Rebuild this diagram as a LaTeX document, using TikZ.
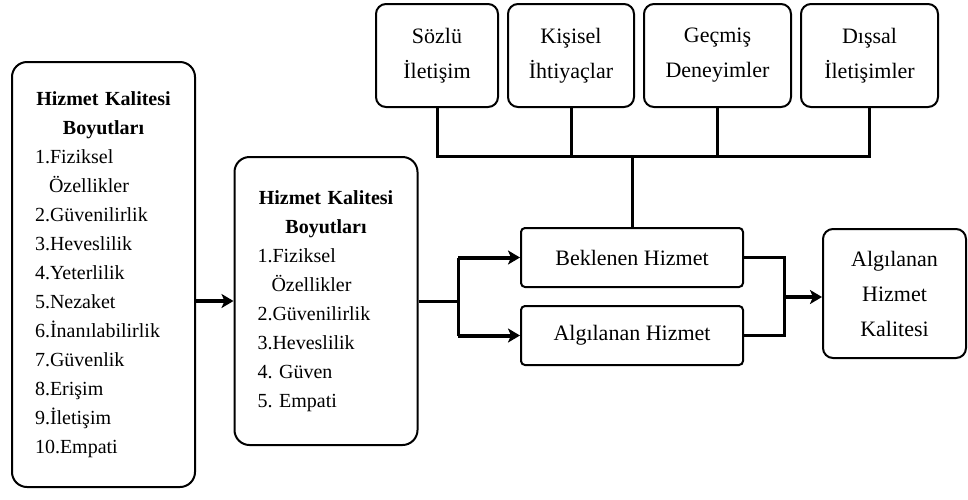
\documentclass[tikz,border=0pt]{standalone}
\usepackage{fontspec}
\setmainfont{Liberation Serif}
\usetikzlibrary{arrows.meta,positioning}

\begin{document}
\begin{tikzpicture}[x=0.5pt,y=-0.5pt,
  kutu/.style={draw,line width=1pt,rounded corners=7.5pt,text width=68.5pt,inner xsep=11.5pt,inner ysep=0pt,font=\fontsize{10}{14.5}\selectfont},
  ust/.style={draw,line width=1pt,rounded corners=5pt,align=center,minimum height=51.5pt,inner sep=0pt,font=\fontsize{11}{17.5}\selectfont},
  hizmet/.style={draw,line width=1pt,rounded corners=2pt,minimum width=111pt,minimum height=29.5pt,inner sep=0pt,font=\fontsize{11}{13}\selectfont},
  cizgi/.style={line width=1.5pt},
  ok/.style={line width=2pt,-{Stealth[length=6pt,width=7pt,inset=1.5pt]}}]
  \useasboundingbox (0,0) rectangle (968,499);

  % 箱
  \node[kutu,minimum height=212.5pt] (L) at (103.5,274.5) {\centering\textbf{Hizmet Kalitesi}\\\textbf{Boyutları}\par
    \raggedright 1.Fiziksel\\\hspace*{7pt}Özellikler\\2.Güvenilirlik\\3.Heveslilik\\4.Yeterlilik\\5.Nezaket\\6.İnanılabilirlik\\7.Güvenlik\\8.Erişim\\9.İletişim\\10.Empati\par};
  \node[kutu,minimum height=144pt] (M) at (326,301) {\centering\textbf{Hizmet Kalitesi}\\\textbf{Boyutları}\par
    \raggedright 1.Fiziksel\\\hspace*{7pt}Özellikler\\2.Güvenilirlik\\3.Heveslilik\\4.\ Güven\\5.\ Empati\par};

  \node[ust,minimum width=61pt] (S) at (437,55.5) {Sözlü\\İletişim};
  \node[ust,minimum width=63pt,right=4pt of S] (K) {Kişisel\\İhtiyaçlar};
  \node[ust,minimum width=73.5pt,right=4pt of K] (G) {Geçmiş\\Deneyimler};
  \node[ust,minimum width=68.5pt,right=4pt of G] (D) {Dışsal\\İletişimler};

  \node[hizmet] (B) at (632,257.5) {Beklenen Hizmet};
  \node[hizmet] (A) at (632,335.5) {Algılanan Hizmet};
  \node[ust,minimum width=71.5pt,minimum height=64.5pt] (R) at (894.5,293.5) {Algılanan\\Hizmet\\Kalitesi};

  % 線・矢印
  \coordinate (bus) at (632,156);
  \coordinate (ayrim) at (458,301);
  \coordinate (birlesim) at (784,297);

  \draw[cizgi] (S.south) -- (S.south |- bus) -- (D.south |- bus) -- (D.south);
  \draw[cizgi] (K.south) -- (K.south |- bus);
  \draw[cizgi] (G.south) -- (G.south |- bus);
  \draw[cizgi] (bus) -- (B.north);

  \draw[ok] (L.east |- M.west) -- (M.west);
  \draw[cizgi] (M.east) -- (ayrim);
  \draw[cizgi] (ayrim |- B.west) -- (ayrim |- A.west);
  \draw[ok] (ayrim |- B.west) -- (B.west);
  \draw[ok] (ayrim |- A.west) -- (A.west);

  \draw[cizgi] (B.east) -| (birlesim) |- (A.east);
  \draw[ok] (birlesim) -- (birlesim -| R.west);
\end{tikzpicture}
\end{document}
